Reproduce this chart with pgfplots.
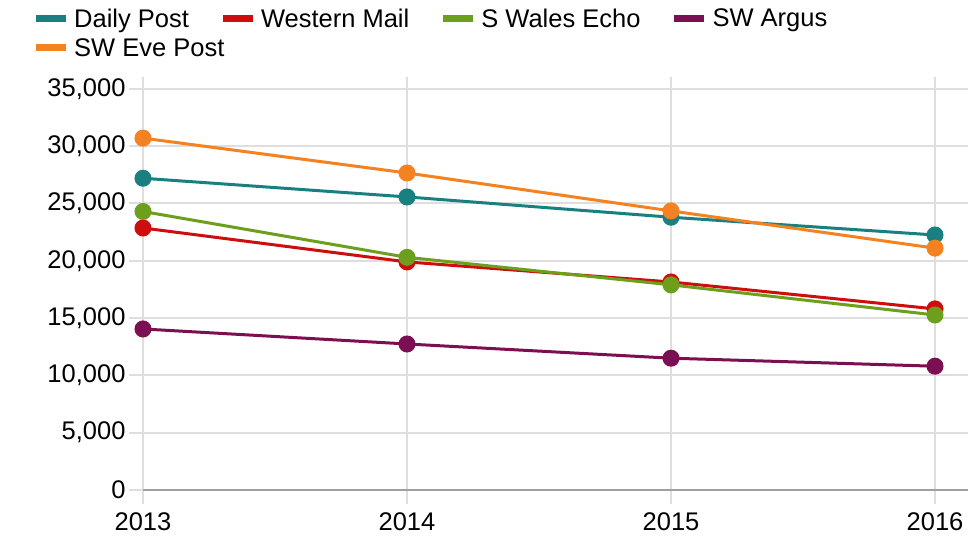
\documentclass[border=0pt]{standalone}
\usepackage{fontspec}
\setmainfont{Liberation Sans}
\usepackage{pgfplots}
\pgfplotsset{compat=1.18}
\definecolor{cteal}{RGB}{24,128,128}
\definecolor{cred}{RGB}{206,14,14}
\definecolor{cgreen}{RGB}{108,160,28}
\definecolor{cpurple}{RGB}{124,14,82}
\definecolor{corange}{RGB}{245,130,32}
\definecolor{cgrid}{RGB}{222,222,222}
\definecolor{caxis}{RGB}{160,160,160}
\begin{document}
\begin{tikzpicture}
\path[use as bounding box] (0pt,0pt) rectangle (976pt,549pt);
\begin{axis}[
  at={(143pt,59pt)}, anchor=south west,
  scale only axis, width=825pt, height=412.6pt,
  xmin=2013, xmax=2016.125, ymin=0, ymax=36000,
  clip=false,
  font=\fontsize{25.5}{30}\selectfont,
  /pgf/number format/assume math mode=true,
  /pgf/number format/fixed,
  /pgf/number format/1000 sep={,},
  scaled y ticks=false,
  xtick={2013,2014,2015,2016},
  xticklabels={2013,2014,2015,2016},
  ytick={0,5000,10000,15000,20000,25000,30000,35000},
  xmajorgrids, ymajorgrids,
  grid style={cgrid, line width=2pt},
  axis lines*=left,
  x axis line style={-, caxis, line width=2pt},
  y axis line style={draw=none},
  tick align=outside,
  major tick length=14pt,
  tick style={cgrid, line width=2pt},
  ytick pos=left, xtick pos=bottom,
  xticklabel style={yshift=-5pt},
  yticklabel style={xshift=0pt},
  legend columns=4,
  legend style={at={(axis description cs:-0.1345,1.172)}, anchor=north west,
    draw=none, fill=none, inner sep=0pt,
    font=\fontsize{25.5}{30}\selectfont,
    /tikz/every even column/.append style={column sep=28pt},
    /tikz/every odd column/.append style={column sep=3pt},
    row sep=5pt,
    nodes={inner sep=2pt}},
  legend cell align=left,
  legend image code/.code={\draw[line width=7pt] (0pt,0pt) -- (30pt,0pt);},
  every axis plot/.append style={line width=3pt, mark=*, mark size=7pt, mark options={solid}},
]
\addplot[cteal, mark options={fill=cteal}] coordinates {(2013,27200) (2014,25570) (2015,23800) (2016,22250)};
\addlegendentry{Daily Post}
\addplot[cred, mark options={fill=cred}] coordinates {(2013,22860) (2014,19900) (2015,18150) (2016,15800)};
\addlegendentry{Western Mail}
\addplot[cgreen, mark options={fill=cgreen}] coordinates {(2013,24300) (2014,20300) (2015,17900) (2016,15270)};
\addlegendentry{S Wales Echo}
\addplot[cpurple, mark options={fill=cpurple}] coordinates {(2013,14050) (2014,12740) (2015,11500) (2016,10800)};
\addlegendentry{SW Argus}
\addplot[corange, mark options={fill=corange}] coordinates {(2013,30700) (2014,27660) (2015,24350) (2016,21100)};
\addlegendentry{\rlap{SW Eve Post}\phantom{Daily Post}}
\end{axis}
\end{tikzpicture}
\end{document}
